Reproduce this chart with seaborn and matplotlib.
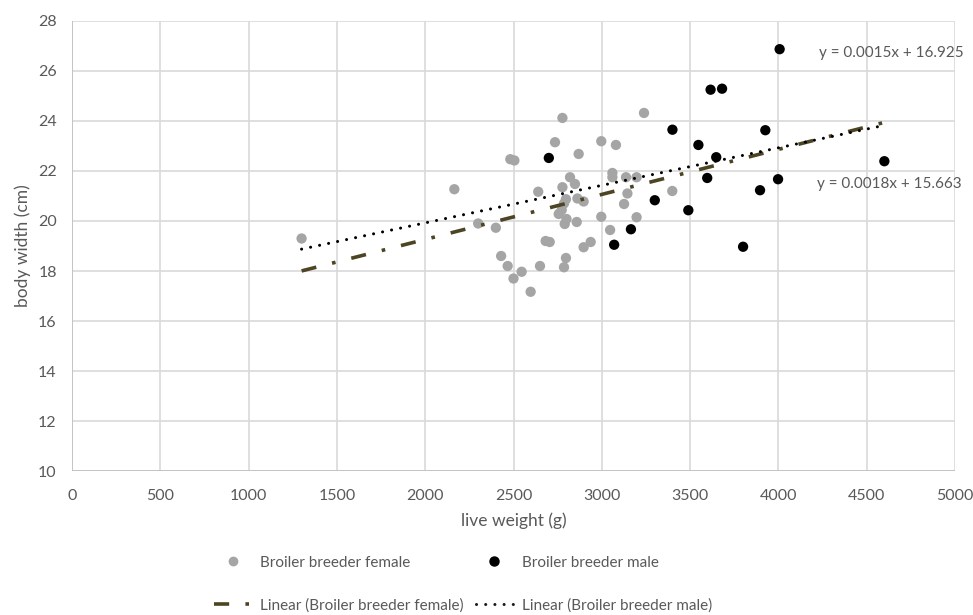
import numpy as np
import pandas as pd
import seaborn as sns
import matplotlib.pyplot as plt
from matplotlib.lines import Line2D

# data
female_w = [1300, 2165, 2300, 2400, 2430, 2467, 2482, 2505, 2500, 2546, 2597, 2640,
            2650, 2682, 2705, 2735, 2777, 2777, 2820, 2848, 2869, 2797, 2786, 2773,
            2756, 2790, 2800, 2858, 2862, 2897, 2797, 2786, 2897, 2937, 2997, 3080,
            2997, 3047, 3060, 3060, 3137, 3145, 3126, 3197, 3197, 3239, 3399]
female_bw = [19.3, 21.27, 19.9, 19.73, 18.6, 18.2, 22.47, 22.42, 17.7, 17.97, 17.17, 21.17,
             18.2, 19.2, 19.16, 23.15, 24.12, 21.35, 21.75, 21.48, 22.68, 20.87, 20.7, 20.44,
             20.28, 19.88, 20.08, 19.96, 20.9, 20.78, 18.52, 18.15, 18.95, 19.16, 23.19, 23.04,
             20.17, 19.64, 21.92, 21.75, 21.75, 21.1, 20.68, 21.75, 20.15, 24.32, 21.2]
male_w = [2700, 3070, 3165, 3300, 3400, 3490, 3547, 3597, 3616, 3648, 3681, 3800,
          3896, 3926, 3998, 4007, 4600]
male_bw = [22.52, 19.05, 19.67, 20.83, 23.65, 20.43, 23.04, 21.72, 25.25, 22.55, 25.29, 18.97,
           21.23, 23.63, 21.67, 26.87, 22.39]

groups = ['Broiler breeder female', 'Broiler breeder male']
slopes = [0.0018, 0.0015]
intercepts = [15.663, 16.925]

df = pd.DataFrame({'w': female_w + male_w, 'bw': female_bw + male_bw,
                   'grp': [groups[0]] * len(female_w) + [groups[1]] * len(male_w)})

x_rng = np.array([df.w.min(), df.w.max()])
trend = pd.DataFrame({'w': np.tile(x_rng, 2),
                      'bw': np.concatenate([s * x_rng + b for s, b in zip(slopes, intercepts)]),
                      'grp': np.repeat(['Linear (' + g + ')' for g in groups], 2)})

sns.set_theme(style='whitegrid')
plt.rcParams['font.family'] = ['Lato', 'DejaVu Sans']
txt = '#595959'
grid = '#d9d9d9'
colors = {groups[0]: '#a5a5a5', groups[1]: '#000000'}
line_col = {'Linear (' + groups[0] + ')': '#4d4424', 'Linear (' + groups[1] + ')': '#000000'}
dash_f = (0, (4.2, 4.5, 1.0, 4.5))
dot_m = (0, (0.01, 3))

fig = plt.figure(figsize=(9.73, 6.15), dpi=100)
ax = fig.add_axes([0.074, 0.234, 0.9075, 0.732])

sns.scatterplot(data=df, x='w', y='bw', hue='grp', palette=colors, s=55,
                edgecolor='none', legend=False, ax=ax, zorder=3)
sns.lineplot(data=trend, x='w', y='bw', hue='grp', palette=line_col, legend=False,
             ax=ax, zorder=4)
ln_f, ln_m = ax.get_lines()[-2:]
ln_f.set_linewidth(2.6)
ln_f.set_linestyle(dash_f)
ln_m.set_linewidth(2.2)
ln_m.set_linestyle(dot_m)
ln_m.set_dash_capstyle('round')

ax.set_xlim(0, 5000)
ax.set_ylim(10, 28)
ax.set_xticks(np.arange(0, 5001, 500))
ax.set_yticks(np.arange(10, 29, 2))
ax.grid(True, color=grid, linewidth=1.2)
for s in ax.spines.values():
    s.set_visible(False)
ax.axhline(10, color='#bfbfbf', lw=1.2, zorder=2)
ax.axvline(0, color='#bfbfbf', lw=1.2, zorder=2)
ax.tick_params(colors=txt, labelsize=11.5, length=0)
ax.tick_params(axis='x', pad=13)
ax.tick_params(axis='y', pad=11)
ax.set_xlabel('live weight (g)', color=txt, fontsize=12.5, labelpad=7)
ax.set_ylabel('body width (cm)', color=txt, fontsize=12.5, labelpad=5)

ax.text(4230, 26.72, 'y = 0.0015x + 16.925', color=txt, fontsize=11, va='center')
ax.text(4219, 21.48, 'y = 0.0018x + 15.663', color=txt, fontsize=11, va='center')

h = [Line2D([], [], ls='none', marker='o', ms=6, color=colors[groups[0]]),
     Line2D([], [], color='#4d4424', lw=2.6, ls=dash_f),
     Line2D([], [], ls='none', marker='o', ms=6.5, color=colors[groups[1]]),
     Line2D([], [], color='k', lw=2.2, ls=dot_m, dash_capstyle='round')]
labels = [groups[0], 'Linear (' + groups[0] + ')', groups[1], 'Linear (' + groups[1] + ')']
leg = fig.legend(h, labels, loc='center', bbox_to_anchor=(0.476, 0.0504), ncol=2,
                 frameon=False, fontsize=11, labelspacing=1.85, columnspacing=0.8,
                 handlelength=2.4, handletextpad=0.6)
for t in leg.get_texts():
    t.set_color(txt)

fig.savefig('out.png', dpi=100)
